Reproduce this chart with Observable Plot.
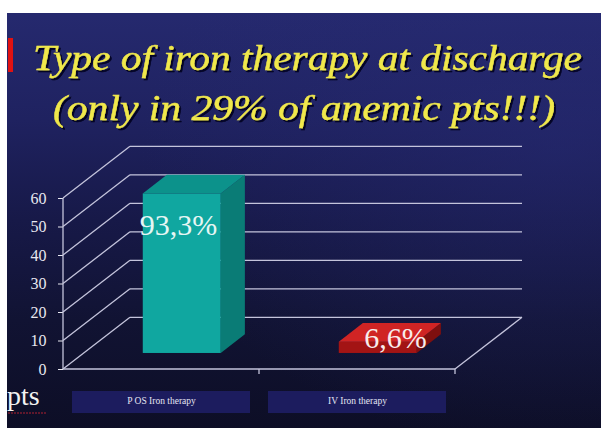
<!DOCTYPE html>
<html>
<head>
<meta charset="utf-8">
<script src="https://cdn.jsdelivr.net/npm/d3@7"></script>
<script src="https://cdn.jsdelivr.net/npm/@observablehq/plot@0.6"></script>
<style>
  html, body { margin: 0; padding: 0; background: #ffffff; }
  #slide {
    position: absolute; left: 0; top: 0; width: 601px; height: 428px; overflow: hidden;
    clip-path: inset(13px 0px 0px 7px);
    background:
      radial-gradient(ellipse 420px 300px at 560px 150px, rgba(40,44,120,0.45), rgba(40,44,120,0) 100%),
      linear-gradient(180deg, #262a70 0px, #1f2260 120px, #171948 220px, #111333 320px, #0d0e26 428px);
  }
  #slide svg { position: absolute; left: 0; top: 0; }
</style>
</head>
<body>
<div id="slide"></div>
<script>
// Iron therapy prescribed at discharge, share of treated anemic patients
const categories = ["P OS Iron therapy", "IV Iron therapy"];
const percent = [93.3, 6.6];
const treatedPatients = 60;           // patients discharged on iron = 100%
const yTicks = [0, 10, 20, 30, 40, 50, 60];
const titleLines = ["Type of iron therapy at discharge", "(only in 29% of anemic pts!!!)"];

const bars = categories.map((category, i) => ({
  category,
  pct: percent[i],
  value: percent[i] * treatedPatients / 100
}));

// look of the pseudo-3D box
const lineColor = "#c4c4dc";
const depth = {x: 67, y: -51.7};      // floor depth vector, px
const barFront = 0.31, barBack = 0.67; // bar position within the depth
const barInset = 59;
const faceColors = [
  {front: "#10a7a0", side: "#0a7c76", top: "#0c928b"},
  {front: "#a31414", side: "#7e0f0f", top: "#d02424"}
];
const serif = "'Liberation Serif', 'Times New Roman', serif";
const fmtPct = v => v.toFixed(1).replace(".", ",") + "%";

// back wall, side wall, floor and category boxes
function box(index, scales, values, dims) {
  const {x, y} = scales;
  const x0 = dims.marginLeft, x1 = dims.width - dims.marginRight, y0 = y(0);
  const bw = typeof x.bandwidth === "function" ? x.bandwidth() : x.bandwidth;
  const g = d3.create("svg:g");
  const lines = g.append("g").attr("stroke", lineColor).attr("stroke-width", 1.3).attr("fill", "none");
  for (const t of yTicks) {
    lines.append("line").attr("x1", x0 + depth.x).attr("x2", x1 + depth.x)
      .attr("y1", y(t) + depth.y).attr("y2", y(t) + depth.y);
    lines.append("line").attr("x1", x0).attr("y1", y(t))
      .attr("x2", x0 + depth.x).attr("y2", y(t) + depth.y);
  }
  lines.append("line").attr("x1", x0).attr("x2", x0).attr("y1", y(yTicks[yTicks.length - 1])).attr("y2", y0);
  lines.append("line").attr("x1", x0).attr("x2", x1).attr("y1", y0).attr("y2", y0);
  lines.append("line").attr("x1", x1).attr("y1", y0).attr("x2", x1 + depth.x).attr("y2", y0 + depth.y);
  for (const c of categories) {
    const xe = x(c) + bw;
    lines.append("line").attr("x1", xe).attr("x2", xe).attr("y1", y0).attr("y2", y0 + 5);
  }
  // label boxes under the floor
  for (const c of categories) {
    g.append("rect").attr("x", x(c) + 9).attr("width", bw - 18)
      .attr("y", y0 + 22).attr("height", 22).attr("fill", "#1c1c5e");
  }
  return g.node();
}

// side and top faces of each bar
function barFaces(index, scales) {
  const {x, y} = scales;
  const bw = typeof x.bandwidth === "function" ? x.bandwidth() : x.bandwidth;
  const g = d3.create("svg:g");
  const ddx = (barBack - barFront) * depth.x, ddy = (barBack - barFront) * depth.y;
  bars.forEach((d, i) => {
    const left = x(d.category) + barInset + barFront * depth.x;
    const right = x(d.category) + bw - barInset + barFront * depth.x;
    const top = y(d.value) + barFront * depth.y;
    const bottom = y(0) + barFront * depth.y;
    g.append("polygon").attr("fill", faceColors[i].side)
      .attr("points", [[right, top], [right + ddx, top + ddy], [right + ddx, bottom + ddy], [right, bottom]].join(" "));
    g.append("polygon").attr("fill", faceColors[i].top)
      .attr("points", [[left, top], [left + ddx, top + ddy], [right + ddx, top + ddy], [right, top]].join(" "));
  });
  return g.node();
}

const chart = Plot.plot({
  width: 601,
  height: 428,
  marginLeft: 63,
  marginRight: 146,
  marginTop: 198,
  marginBottom: 59,
  style: {background: "transparent", color: "#e8e8f0", fontFamily: serif, fontSize: "16px"},
  x: {type: "band", domain: categories, padding: 0, axis: null},
  y: {domain: [0, 60], ticks: yTicks, tickSize: 5, tickPadding: 12, label: null},
  marks: [
    box,
    Plot.barY(bars, {
      x: "category", y: "value",
      fill: (d, i) => faceColors[categories.indexOf(d.category)].front,
      insetLeft: barInset, insetRight: barInset,
      dx: barFront * depth.x, dy: barFront * depth.y
    }),
    barFaces,
    Plot.text(bars.filter(d => d.value >= 20), {
      x: "category", y: "value", text: d => fmtPct(d.pct),
      fontSize: 30, fill: "#e6f6f4", dx: 17, dy: 15
    }),
    Plot.text(bars.filter(d => d.value < 20), {
      x: "category", y: "value", text: d => fmtPct(d.pct),
      fontSize: 30, fill: "#f8ecec", dx: 38, dy: -20
    }),
    Plot.text(categories, {
      x: d => d, frameAnchor: "bottom", dy: 34, text: d => d,
      fontSize: 9.5, fill: "#e4e4f2"
    })
  ]
});

const slide = d3.select("#slide");
slide.node().appendChild(chart);

// slide title and leftover slide text
const over = slide.append("svg").attr("width", 601).attr("height", 428);
over.append("defs").append("filter").attr("id", "title-shadow")
  .attr("x", "-5%").attr("y", "-20%").attr("width", "110%").attr("height", "140%")
  .append("feDropShadow").attr("dx", 2).attr("dy", 2).attr("stdDeviation", 0.7)
  .attr("flood-color", "#05051a").attr("flood-opacity", 0.9);

over.append("rect").attr("x", 8).attr("y", 38).attr("width", 5).attr("height", 34).attr("fill", "#e01212");

const titlePos = [{x: 33, y: 70, w: 549}, {x: 53, y: 120, w: 502}];
titleLines.forEach((line, i) => {
  const p = titlePos[i];
  over.append("text")
    .attr("x", p.x).attr("y", p.y)
    .attr("textLength", p.w).attr("lengthAdjust", "spacingAndGlyphs")
    .attr("font-family", serif).attr("font-style", "italic").attr("font-size", 35)
    .attr("fill", "#f0e84c").attr("stroke", "#f0e84c").attr("stroke-width", 0.4)
    .attr("filter", "url(#title-shadow)")
    .text(line);
});

over.append("text").attr("x", 7).attr("y", 405)
  .attr("font-family", serif).attr("font-size", 28).attr("fill", "#f2f2f2").text("pts");
over.append("line").attr("x1", 8).attr("x2", 46).attr("y1", 413).attr("y2", 413)
  .attr("stroke", "#b02030").attr("stroke-width", 1).attr("stroke-dasharray", "2 1");
</script>
</body>
</html>
